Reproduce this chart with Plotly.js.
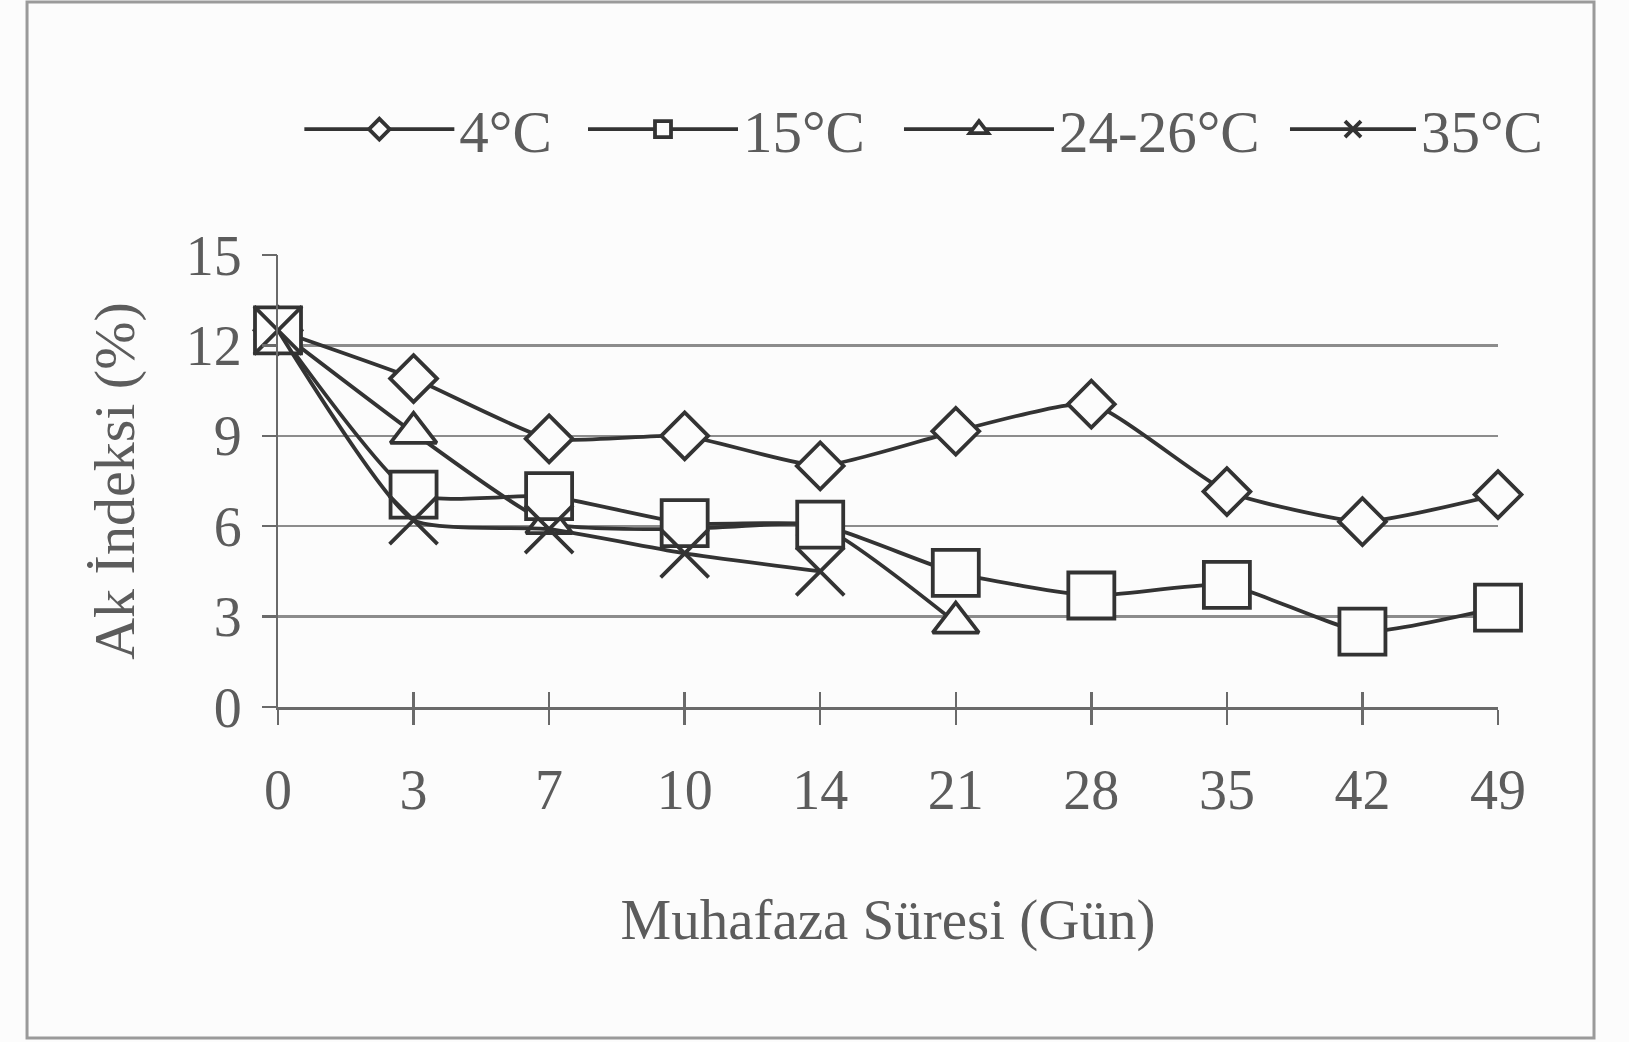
<!DOCTYPE html>
<html>
<head>
<meta charset="utf-8">
<script src="https://cdn.plot.ly/plotly-3.0.1.min.js"></script>
<style>html,body{margin:0;padding:0;background:#fcfcfc;}#chart{width:1629px;height:1042px;}</style>
</head>
<body>
<div id="chart"></div>
<script>
// Storage duration (days) – categorical axis
const days = ['0', '3', '7', '10', '14', '21', '28', '35', '42', '49'];
const yTicks = [0, 3, 6, 9, 12, 15];
const gridVals = [3, 6, 9, 12];

// Series names
const names = ['4°C', '15°C', '24-26°C', '35°C'];

// Ak İndeksi (%) values
const s4  = [12.5, 10.9, 8.9, 9.0, 8.0, 9.15, 10.05, 7.15, 6.15, 7.05];
const s15 = [12.5, 7.05, 7.0, 6.1, 6.05, 4.45, 3.7, 4.05, 2.5, 3.3];
const s24 = [12.5, 9.1, 6.1, 5.9, 6.0, 2.8];
const s35 = [12.5, 6.2, 5.9, 5.1, 4.5];

const INK = '#333333';
const TXT = '#5c5c5c';
const FONT = 'Liberation Serif, Times New Roman, serif';
const FS = 56;
const LFS = 59;

function series(name, xs, ys, symbol, size, legendId, fill) {
  return {
    type: 'scatter', mode: 'lines+markers', name: name,
    x: xs, y: ys, legend: legendId, cliponaxis: false,
    line: {color: INK, width: 3.8, shape: 'spline', smoothing: 0.5},
    marker: {symbol: symbol, size: size, color: fill,
             line: {color: INK, width: 3.8}},
    hoverinfo: 'skip'
  };
}

const traces = [
  series(names[0], days, s4, 'diamond', 36, 'legend', '#fcfcfc'),
  series(names[2], days.slice(0, s24.length), s24, 'triangle-up', 40, 'legend3', '#fcfcfc'),
  series(names[1], days, s15, 'square', 46, 'legend2', '#fcfcfc'),
  series(names[3], days.slice(0, s35.length), s35, 'x-thin-open', 48, 'legend4', INK),
  // helper trace for the overlay axes (inside x ticks, y tick labels)
  {type: 'scatter', mode: 'none', x: days, y: s4, xaxis: 'x2', yaxis: 'y2',
   showlegend: false, hoverinfo: 'skip'}
];

function legendAt(x, w) {
  return {
    orientation: 'h', x: x, xanchor: 'left', y: 1.278, yanchor: 'middle',
    font: {family: FONT, size: LFS, color: TXT},
    itemwidth: w, bgcolor: 'rgba(0,0,0,0)', borderwidth: 0
  };
}

const layout = {
  width: 1629, height: 1042,
  paper_bgcolor: '#fcfcfc', plot_bgcolor: 'rgba(0,0,0,0)',
  margin: {l: 278, r: 131, t: 255, b: 335},
  font: {family: FONT, size: FS, color: TXT},
  showlegend: true,
  legend: legendAt(0.0175, 150),
  legend2: legendAt(0.250, 150),
  legend3: legendAt(0.509, 150),
  legend4: legendAt(0.8254, 126),
  xaxis: {
    type: 'category', categoryorder: 'array', categoryarray: days,
    range: [0, 9], showgrid: false, zeroline: false,
    showline: true, linecolor: '#6a6a6a', linewidth: 2.5,
    ticks: 'outside', ticklen: 15, tickwidth: 2.5, tickcolor: '#6a6a6a',
    ticklabelstandoff: 17,
    tickfont: {family: FONT, size: FS, color: TXT},
    title: {text: 'Muhafaza Süresi (Gün)', font: {family: FONT, size: 57, color: TXT}, standoff: 80},
    fixedrange: true
  },
  yaxis: {
    range: [0, 15], tickmode: 'array', tickvals: gridVals,
    showticklabels: false, ticks: '',
    showgrid: true, gridcolor: '#8c8c8c', gridwidth: 2.5,
    zeroline: false, showline: true, linecolor: '#6a6a6a', linewidth: 2.5,
    title: {text: ''}, fixedrange: true
  },
  xaxis2: {
    type: 'category', categoryorder: 'array', categoryarray: days,
    range: [0, 9], overlaying: 'x', anchor: 'y2',
    showgrid: false, zeroline: false, showline: false,
    ticks: 'inside', ticklen: 15, tickwidth: 2.5, tickcolor: '#6a6a6a',
    showticklabels: false, fixedrange: true
  },
  yaxis2: {
    range: [0, 15], overlaying: 'y', anchor: 'x2', side: 'left',
    tickmode: 'array', tickvals: yTicks,
    showgrid: false, zeroline: false, showline: false,
    ticks: 'outside', ticklen: 15, tickwidth: 2.5, tickcolor: '#6a6a6a',
    ticklabelstandoff: 9,
    tickfont: {family: FONT, size: FS, color: TXT},
    title: {text: 'Ak İndeksi (%)', font: {family: FONT, size: 58, color: TXT}, standoff: 32},
    fixedrange: true
  },
  shapes: [{
    type: 'rect', xref: 'paper', yref: 'paper', layer: 'below',
    x0: -0.2057, x1: 1.0787, y0: -0.7323, y1: 1.5597,
    line: {color: '#9a9a9a', width: 3}
  }]
};

Plotly.newPlot('chart', traces, layout, {staticPlot: true, displayModeBar: false});
</script>
</body>
</html>
